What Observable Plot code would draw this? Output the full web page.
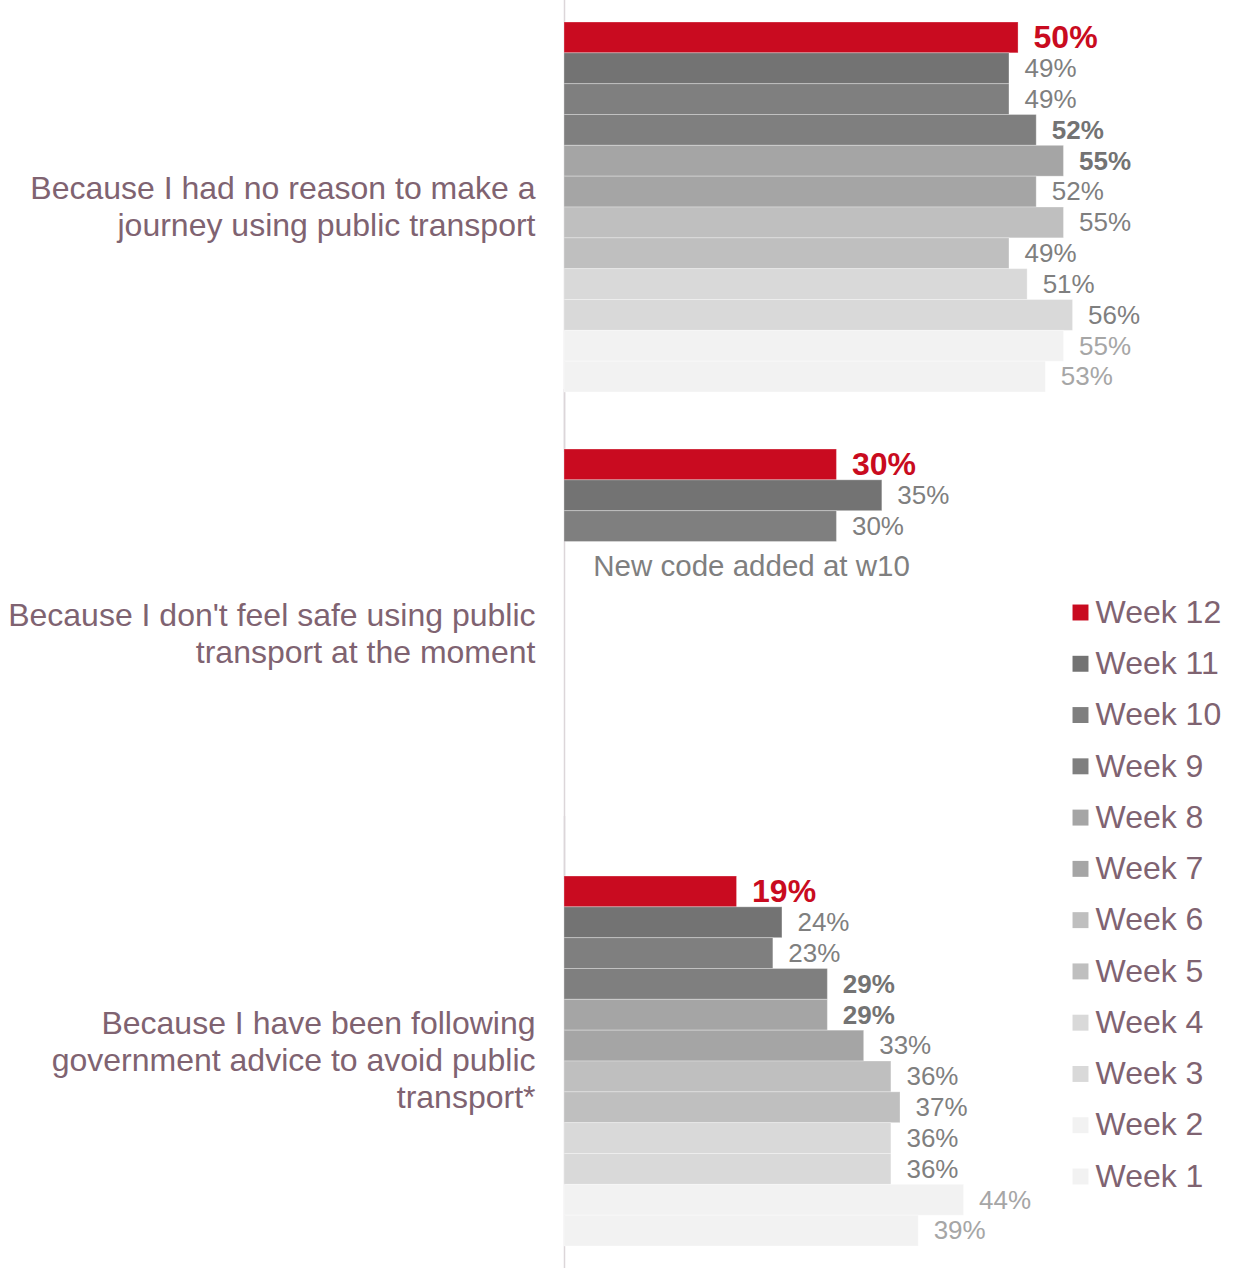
<!DOCTYPE html>
<html>
<head>
<meta charset="utf-8">
<script src="https://cdn.jsdelivr.net/npm/d3@7"></script>
<script src="https://cdn.jsdelivr.net/npm/@observablehq/plot@0.6"></script>
<style>
  body { margin: 0; background: #fff; font-family: "Liberation Sans", Arial, sans-serif; }
  #wrap { position: relative; width: 1236px; height: 1268px; }
  #legend { position: absolute; left: 1060px; top: 580px; }
</style>
</head>
<body>
<div id="wrap">
  <div id="chart"></div>
  <div id="legend"></div>
</div>
<script>
// ---- data ----
const categories = [
  "Because I had no reason to make a journey using public transport",
  "Because I don't feel safe using public transport at the moment",
  "Because I have been following government advice to avoid public transport*"
];
const categoryLabels = [
  "Because I had no reason to make a\njourney using public transport",
  "Because I don't feel safe using public\ntransport at the moment",
  "Because I have been following\ngovernment advice to avoid public\ntransport*"
];
const weeks = ["Week 12", "Week 11", "Week 10", "Week 9", "Week 8", "Week 7",
               "Week 6", "Week 5", "Week 4", "Week 3", "Week 2", "Week 1"];
const weekColors = ["#c90b20", "#737373", "#7f7f7f", "#7f7f7f", "#a5a5a5", "#a5a5a5",
                    "#bfbfbf", "#bfbfbf", "#d9d9d9", "#d9d9d9", "#f2f2f2", "#f2f2f2"];
const valuesNoReason  = [50, 49, 49, 52, 55, 52, 55, 49, 51, 56, 55, 53];
const valuesNotSafe   = [30, 35, 30];
const valuesGovAdvice = [19, 24, 23, 29, 29, 33, 36, 37, 36, 36, 44, 39];
const seriesValues = [valuesNoReason, valuesNotSafe, valuesGovAdvice];
// weeks whose labels are shown in bold (significant change)
const significantWeeks = [["Week 9", "Week 8"], [], ["Week 9", "Week 8"]];
const faintLabelWeeks = ["Week 2", "Week 1"];
const notes = [{category: categories[1], week: "Week 9", value: 20.6, label: "New code added at w10"}];

// ---- table ----
const rows = [];
categories.forEach((c, i) => {
  seriesValues[i].forEach((v, j) => {
    const w = weeks[j];
    let kind = "normal";
    if (j === 0) kind = "latest";
    else if (significantWeeks[i].includes(w)) kind = "sig";
    else if (faintLabelWeeks.includes(w)) kind = "faint";
    rows.push({category: c, week: w, value: v, kind});
  });
});
const catRows = categories.map((c, i) => ({category: c, label: categoryLabels[i]}));

const FONT = '"Liberation Sans", Arial, sans-serif';
const pct = d => d.value + "%";
const labelOpts = {x: "value", y: "week", fy: "category", text: pct, textAnchor: "start", dx: 15};

const chart = Plot.plot({
  width: 1236,
  height: 1268,
  marginLeft: 564,
  marginRight: 0,
  marginTop: 22,
  marginBottom: 22,
  style: {fontFamily: FONT, background: "transparent"},
  x: {domain: [0, 74], axis: null},
  y: {domain: weeks, padding: 0, round: false, axis: null},
  fy: {domain: categories, paddingInner: 57 / 427, paddingOuter: 0, round: false, axis: null},
  color: {domain: weeks, range: weekColors},
  marks: [
    Plot.ruleX([0], {stroke: "#dcd6d9", strokeWidth: 1.5, insetTop: -60, insetBottom: -60}),
    Plot.barX(rows, {x: "value", y: "week", fy: "category", fill: "week",
                     stroke: "#ffffff", strokeOpacity: 0.3, strokeWidth: 1}),
    Plot.text(rows.filter(d => d.kind === "latest"),
      {...labelOpts, fill: "#c90b20", fontWeight: "bold", fontSize: 32}),
    Plot.text(rows.filter(d => d.kind === "sig"),
      {...labelOpts, fill: "#737373", fontWeight: "bold", fontSize: 26}),
    Plot.text(rows.filter(d => d.kind === "normal"),
      {...labelOpts, fill: "#7f7f7f", fontSize: 26}),
    Plot.text(rows.filter(d => d.kind === "faint"),
      {...labelOpts, fill: "#a6a6a6", fontSize: 26}),
    Plot.text(notes, {x: "value", y: "week", fy: "category", text: "label", dy: 9,
                      fill: "#7f7f7f", fontSize: 29.5}),
    Plot.text(catRows, {fy: "category", text: "label", frameAnchor: "left", textAnchor: "end",
                        dx: -29, dy: -2, fill: "#7f6371", fontSize: 32, lineHeight: 1.15, lineAnchor: "middle"})
  ]
});
document.getElementById("chart").append(chart);

const legend = Plot.plot({
  width: 176,
  height: 630,
  marginLeft: 0, marginRight: 0, marginTop: 32, marginBottom: 34,
  style: {fontFamily: FONT, background: "transparent"},
  y: {type: "point", domain: weeks, padding: 0, round: false, axis: null},
  color: {domain: weeks, range: weekColors},
  marks: [
    Plot.dot(weeks, {y: d => d, fill: d => d, symbol: "square", r: 9, frameAnchor: "left", dx: 20}),
    Plot.text(weeks, {y: d => d, text: d => d, frameAnchor: "left", dx: 35, textAnchor: "start",
                      fill: "#7f6371", fontSize: 32})
  ]
});
document.getElementById("legend").append(legend);
</script>
</body>
</html>
